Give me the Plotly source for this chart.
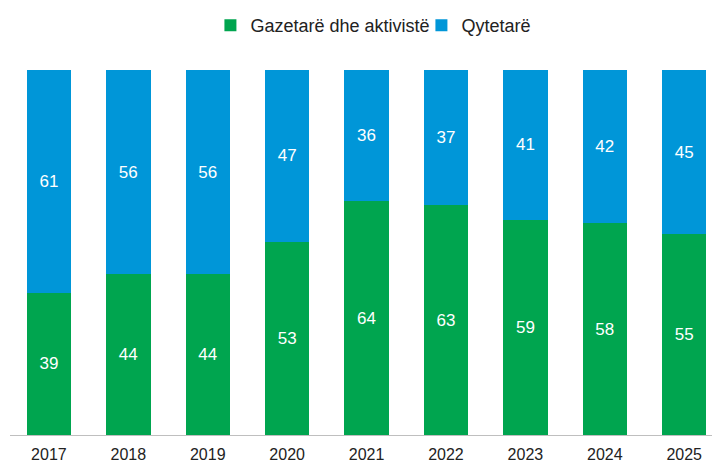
import plotly.graph_objects as go

years = ["2017", "2018", "2019", "2020", "2021", "2022", "2023", "2024", "2025"]
gazetare = [39, 44, 44, 53, 64, 63, 59, 58, 55]
qytetare = [61, 56, 56, 47, 36, 37, 41, 42, 45]

green = "#00A54F"
blue = "#0096D8"
font_family = "Arial, Liberation Sans, sans-serif"

fig = go.Figure()
fig.add_trace(go.Bar(
    x=years, y=gazetare, name="Gazetarë dhe aktivistë",
    marker=dict(color=green, line=dict(width=0)),
    text=gazetare, textposition="inside", insidetextanchor="middle",
    textfont=dict(color="white", size=17, family=font_family),
))
fig.add_trace(go.Bar(
    x=years, y=qytetare, name="Qytetarë",
    marker=dict(color=blue, line=dict(width=0)),
    text=qytetare, textposition="inside", insidetextanchor="middle",
    textfont=dict(color="white", size=17, family=font_family),
))

fig.update_layout(
    barmode="stack",
    bargap=0.44,
    width=712, height=464,
    margin=dict(l=10, r=0, t=70, b=29),
    plot_bgcolor="white", paper_bgcolor="white",
    font=dict(family=font_family, size=16, color="#222222"),
    legend=dict(
        orientation="h", traceorder="normal",
        x=0.2855, xanchor="left", y=0.985, yanchor="top", yref="container",
        font=dict(size=18, color="#222222"),
        itemwidth=30, tracegroupgap=0,
        entrywidth=166, entrywidthmode="pixels",
    ),
    xaxis=dict(
        type="category", range=[-0.49, 8.35], automargin=False,
        showline=True, linecolor="#BFBFBF", linewidth=1,
        ticks="", tickfont=dict(size=16, color="#222222"),
        ticklabelstandoff=5,
    ),
    yaxis=dict(range=[0, 100], visible=False, showgrid=False, automargin=False),
    showlegend=True,
)

fig.write_html("out.html")
